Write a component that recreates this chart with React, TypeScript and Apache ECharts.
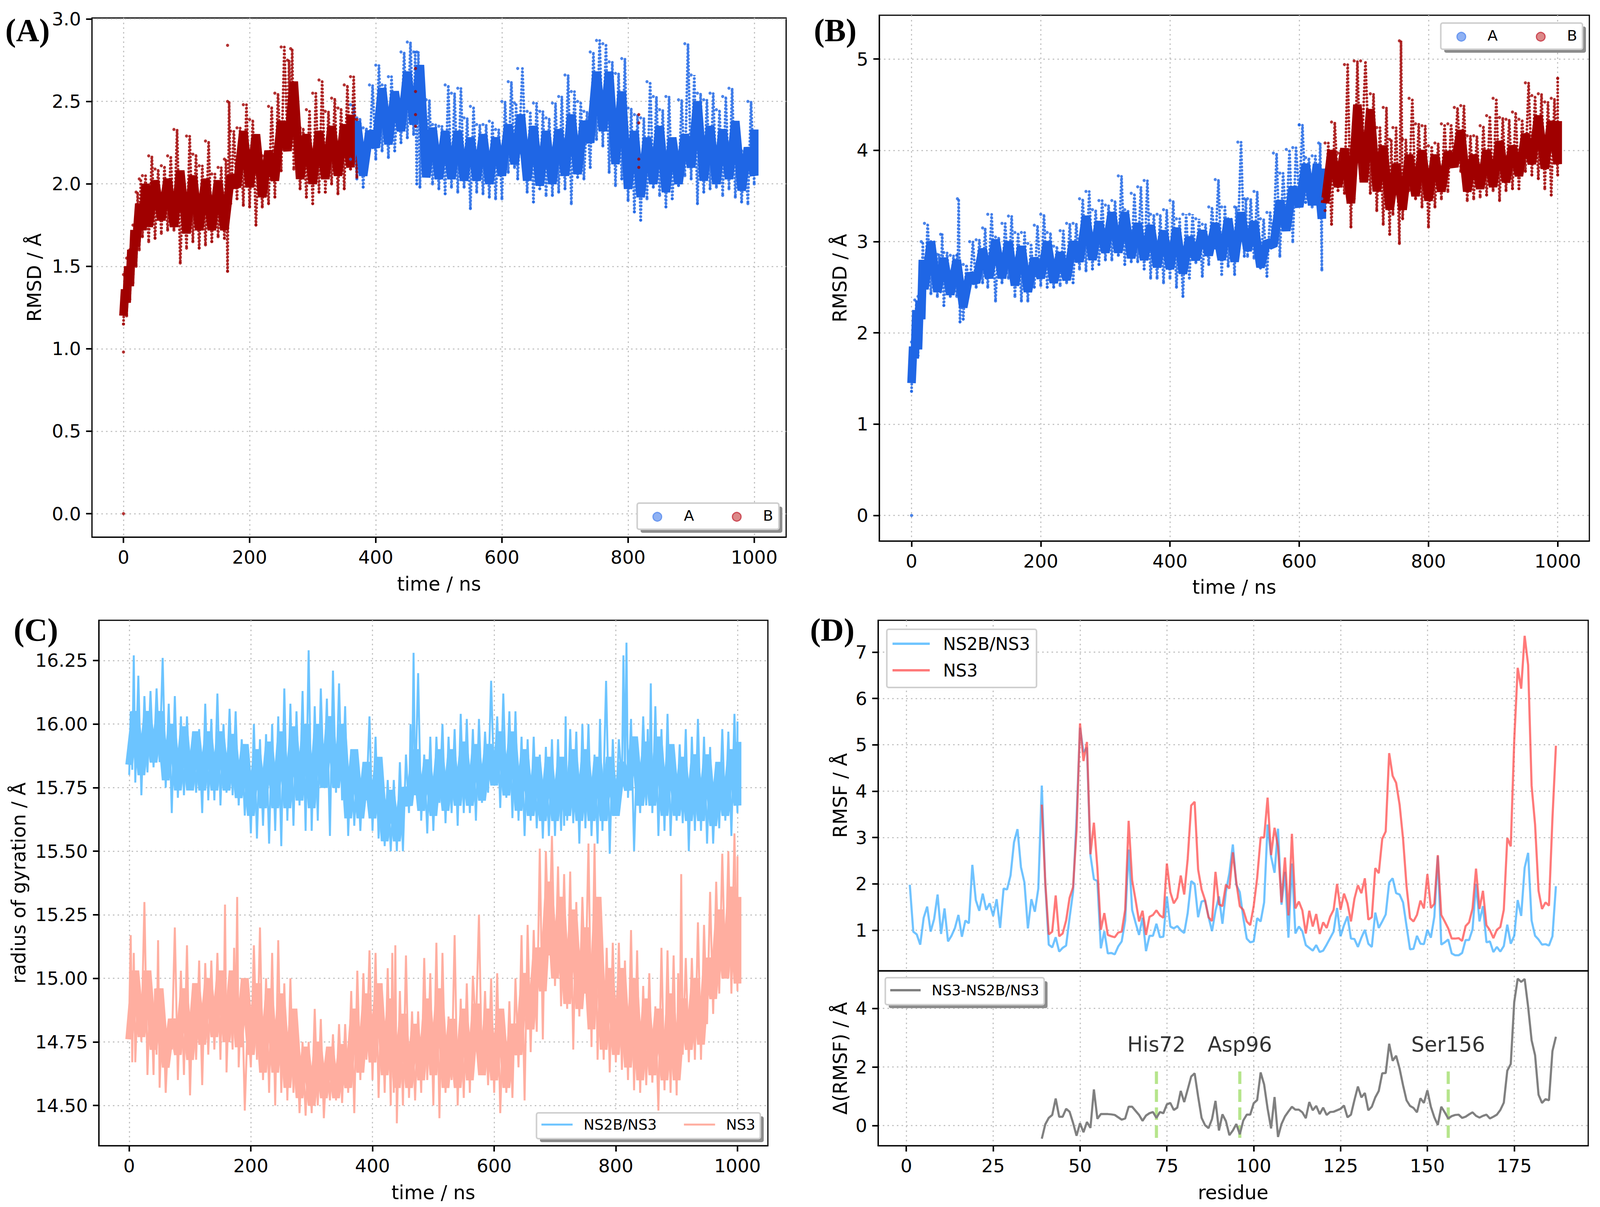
import React, { useEffect, useRef } from "react";
import * as echarts from "echarts";

const FONT = "DejaVu Sans";
const RED = "#a00000";
const BLUE = "#1f66e5";
const SKY = "#33a9ff";
const CORAL = "#ff4040";
const RG_SKY = "#6cc4ff";
const RG_SALMON = "#ffaea0";
const DESIGN_WIDTH = 4211;

const timeTicks = [0, 200, 400, 600, 800, 1000];
const ticksA = [0, 0.5, 1, 1.5, 2, 2.5, 3];
const ticksB = [0, 1, 2, 3, 4, 5];
const ticksC = [14.5, 14.75, 15, 15.25, 15.5, 15.75, 16, 16.25];
const ticksD = [1, 2, 3, 4, 5, 6, 7];
const ticksE = [0, 2, 4];
const residueTicks = [0, 25, 50, 75, 100, 125, 150, 175];

// Panel A, chain B part (red)
const aRedT = [0,5,10,15,20,25,30,40,50,60,70,80,90,100,110,120,130,140,150,160,165,170,180,190,200,210,220,230,240,250,260,265,270,280,290,300,310,320,330,340,350,360,370];
const aRedHi = [1.45,1.55,1.6,1.75,1.95,2.03,2.05,2.17,2.09,2.11,2.17,2.33,2.03,2.29,2.18,2.11,2.26,2.06,2.1,2.15,2.5,2.32,2.34,2.48,2.39,2.27,2.17,2.47,2.55,2.83,2.75,2.82,2.49,2.34,2.45,2.55,2.63,2.44,2.52,2.46,2.6,2.65,2.39];
const aRedLo = [1.15,1.2,1.3,1.4,1.5,1.6,1.68,1.65,1.67,1.7,1.72,1.72,1.52,1.61,1.65,1.61,1.63,1.65,1.68,1.67,1.47,1.88,1.91,1.87,1.86,1.75,1.86,1.88,1.92,2.08,2.27,2.35,2.09,1.97,1.92,1.88,1.95,1.95,2.0,1.94,1.97,2.09,2.04];
const aRedCoreT = [0,5,10,15,20,30,40,60,80,100,120,140,160,180,200,220,240,260,280,300,320,340,360];
const aRedCoreHi = [1.36,1.5,1.6,1.72,1.88,2.0,2.02,2.03,2.08,2.05,2.03,2.02,2.05,2.32,2.3,2.2,2.38,2.62,2.3,2.32,2.35,2.36,2.42];
const aRedCoreLo = [1.2,1.28,1.38,1.5,1.62,1.72,1.74,1.78,1.74,1.7,1.72,1.72,1.72,1.98,1.98,1.92,2.02,2.2,2.03,2.0,2.03,2.05,2.1];
const aRedExtra = [[0,0],[0,0.98],[165,2.84],[463,2.7],[463,2.56],[463,2.42],[463,2.35],[817,2.42],[817,2.37],[817,2.15],[817,2.1]];

// Panel A, chain A part (blue)
const aBlueT = [360,370,380,390,400,410,420,430,440,450,460,465,470,480,490,500,510,520,530,540,550,560,570,580,590,600,610,620,625,640,650,660,670,680,690,700,710,720,730,740,750,760,770,780,790,800,810,820,830,840,850,860,870,880,890,900,910,920,930,940,950,960,970,980,990,1000];
const aBlueHi = [2.48,2.4,2.34,2.6,2.72,2.6,2.65,2.55,2.8,2.86,2.8,2.8,2.62,2.51,2.36,2.35,2.6,2.55,2.58,2.4,2.47,2.36,2.36,2.38,2.33,2.5,2.62,2.49,2.7,2.44,2.49,2.44,2.4,2.49,2.53,2.66,2.56,2.5,2.44,2.8,2.87,2.85,2.74,2.67,2.76,2.46,2.42,2.4,2.62,2.53,2.45,2.53,2.22,2.51,2.85,2.66,2.55,2.51,2.55,2.45,2.53,2.58,2.28,2.2,2.5,2.15];
const aBlueLo = [2.15,2.03,1.98,2.2,2.15,2.2,2.16,2.2,2.25,2.28,2.3,2.0,1.98,2.05,2.0,1.97,1.94,1.98,1.95,1.98,1.85,1.95,1.94,1.92,1.91,1.91,2.07,2.1,2.03,1.95,1.89,1.97,1.93,1.93,1.95,1.97,1.88,2.04,2.03,2.1,2.27,2.23,2.07,1.99,2.03,1.9,1.83,1.78,1.91,1.98,1.93,1.86,1.91,1.99,2.05,2.03,1.88,1.95,1.97,1.98,1.93,1.97,1.92,1.89,1.88,2.0];
const aBlueCoreT = [360,380,400,420,440,460,480,500,520,540,560,580,600,620,640,660,680,700,720,740,760,780,800,820,840,860,880,900,920,940,960,980,1000];
const aBlueCoreHi = [2.38,2.32,2.58,2.56,2.68,2.72,2.34,2.32,2.32,2.28,2.3,2.28,2.36,2.42,2.35,2.32,2.33,2.42,2.38,2.68,2.68,2.56,2.32,2.28,2.35,2.28,2.3,2.5,2.35,2.33,2.38,2.22,2.33];
const aBlueCoreLo = [2.12,2.05,2.22,2.24,2.32,2.36,2.04,2.03,2.03,2.02,2.02,2.0,2.05,2.12,2.02,1.99,2.0,2.05,2.06,2.25,2.32,2.12,1.97,1.92,2.0,1.95,2.0,2.1,2.02,2.0,2.03,1.96,2.05];

// Panel B, chain A part (blue)
const bBlueT = [0,5,10,15,20,30,40,45,50,60,70,71,75,80,90,100,110,118,130,140,150,160,170,180,190,200,210,220,230,240,250,260,270,280,290,300,310,320,330,340,350,360,370,380,390,400,410,420,430,440,450,460,470,480,490,500,505,515,520,530,540,550,560,570,580,590,600,610,620,630,635];
const bBlueHi = [1.9,2.36,2.4,3.0,3.2,3.0,2.86,3.08,2.88,2.85,2.85,3.47,2.66,2.75,3.0,3.02,3.15,3.3,3.05,3.2,3.28,3.1,3.1,2.98,3.18,3.3,3.1,2.95,3.12,3.2,3.2,3.47,3.55,3.35,3.45,3.4,3.45,3.72,3.35,3.53,3.6,3.67,3.3,3.3,3.35,3.45,3.25,3.3,3.3,3.25,3.19,3.38,3.68,3.38,3.25,3.38,4.09,3.47,3.47,3.55,3.25,3.32,3.97,3.75,4.01,4.03,4.28,3.92,3.94,4.08,3.47];
const bBlueLo = [1.36,1.75,1.75,2.2,2.4,2.43,2.4,2.45,2.3,2.4,2.4,2.45,2.12,2.15,2.5,2.5,2.55,2.5,2.35,2.55,2.6,2.4,2.35,2.35,2.5,2.52,2.5,2.5,2.52,2.55,2.55,2.7,2.68,2.7,2.75,2.8,2.8,2.85,2.75,2.78,2.78,2.7,2.6,2.6,2.55,2.6,2.5,2.4,2.6,2.77,2.62,2.75,2.93,2.64,2.73,2.64,3.03,2.84,2.84,2.82,2.71,2.62,2.97,2.84,3.21,3.0,3.47,3.43,3.38,3.47,2.69];
const bBlueCoreT = [0,5,10,15,20,40,60,80,100,120,140,160,180,200,220,240,260,280,300,320,340,360,380,400,420,440,460,480,500,520,540,560,580,600,620,635];
const bBlueCoreHi = [1.85,2.25,2.35,2.8,3.0,2.82,2.8,2.65,2.92,3.02,3.0,2.95,2.82,3.0,2.88,3.0,3.28,3.22,3.32,3.32,3.2,3.18,3.12,3.15,3.05,3.12,3.2,3.25,3.32,3.22,3.0,3.45,3.6,3.85,3.85,3.8];
const bBlueCoreLo = [1.45,1.72,1.82,2.15,2.48,2.45,2.42,2.28,2.55,2.6,2.6,2.52,2.45,2.6,2.55,2.58,2.78,2.8,2.88,2.88,2.82,2.8,2.72,2.7,2.65,2.8,2.85,2.8,2.78,2.9,2.72,2.95,3.12,3.38,3.4,3.25];
const bBlueExtra = [[0,0],[600,4.28]];

// Panel B, chain B part (red)
const bRedT = [640,650,660,670,680,685,695,710,720,730,740,745,755,760,770,780,790,800,810,820,830,840,850,860,870,880,890,900,910,920,930,940,950,960,970,980,990,1000];
const bRedHi = [4.08,4.31,3.97,4.94,3.99,4.98,4.98,4.62,4.25,4.47,4.12,4.25,5.2,4.12,4.57,4.29,4.27,4.05,4.08,4.29,4.29,4.47,4.49,4.16,4.16,4.27,4.38,4.57,4.36,4.34,4.42,4.34,4.74,4.6,4.62,4.53,4.57,4.79];
const bRedLo = [3.34,3.19,3.56,3.53,3.16,3.47,3.69,3.53,3.34,3.19,3.08,3.3,2.98,3.25,3.56,3.47,3.38,3.16,3.38,3.47,3.55,3.84,3.77,3.45,3.47,3.49,3.51,3.56,3.45,3.56,3.58,3.58,3.77,3.73,3.69,3.58,3.51,3.73];
const bRedCoreT = [640,660,680,700,720,740,760,780,800,820,840,860,880,900,920,940,960,980,1000];
const bRedCoreHi = [4.0,4.02,4.5,4.45,4.05,3.85,3.95,4.0,3.95,3.98,4.22,3.95,4.0,4.1,4.05,4.18,4.38,4.32,4.32];
const bRedCoreLo = [3.42,3.6,3.42,3.65,3.55,3.35,3.35,3.5,3.45,3.55,3.82,3.55,3.58,3.6,3.65,3.72,3.85,3.8,3.85];

// Panel C, radius of gyration
const rgComplexT = [0,5,10,20,30,40,50,60,70,80,90,100,110,120,130,140,150,160,170,180,190,200,210,220,230,240,250,260,270,280,290,300,310,320,330,340,350,360,370,380,390,400,410,420,430,440,450,460,465,470,480,490,500,510,520,530,540,550,560,570,580,590,600,610,620,630,640,650,660,670,680,690,700,710,715,720,730,740,750,760,770,778,790,800,810,815,820,830,840,850,855,860,870,880,890,900,910,920,930,940,950,960,970,980,990,1000];
const rgComplexHi = [16.05,16.27,16.19,16.11,16.13,16.14,16.26,16.08,16.11,16.03,16.03,15.97,15.98,16.08,16.02,16.12,16.00,16.06,16.05,15.94,15.90,16.00,15.94,15.96,16.00,16.03,16.14,16.08,16.05,16.13,16.29,16.07,16.14,16.10,16.21,16.16,16.07,15.90,15.87,15.85,16.03,15.95,15.82,15.78,15.78,15.85,15.88,16.00,16.28,16.20,15.88,15.95,15.95,16.00,15.95,15.98,16.04,16.02,15.98,16.02,15.97,16.17,16.03,16.12,16.05,16.05,15.95,15.94,15.95,15.88,15.91,15.94,15.94,15.83,16.03,15.98,15.97,16.00,16.00,15.88,16.02,16.17,15.94,15.94,16.27,16.32,16.02,15.91,16.03,15.98,16.16,16.07,15.98,16.04,15.88,15.92,15.98,15.95,16.02,15.95,15.91,15.85,15.98,15.97,16.04,16.01];
const rgComplexLo = [15.80,15.82,15.77,15.72,15.81,15.83,15.85,15.75,15.65,15.71,15.72,15.74,15.73,15.65,15.70,15.70,15.68,15.73,15.72,15.68,15.64,15.57,15.55,15.60,15.53,15.58,15.52,15.62,15.60,15.68,15.58,15.58,15.62,15.75,15.56,15.73,15.70,15.56,15.60,15.58,15.70,15.58,15.55,15.52,15.50,15.50,15.50,15.65,15.75,15.72,15.62,15.57,15.58,15.69,15.61,15.65,15.60,15.65,15.65,15.62,15.69,15.73,15.76,15.67,15.71,15.63,15.62,15.56,15.62,15.59,15.55,15.56,15.56,15.58,15.60,15.62,15.61,15.53,15.59,15.56,15.53,15.58,15.49,15.64,15.76,15.80,15.71,15.50,15.65,15.68,15.70,15.65,15.56,15.58,15.56,15.62,15.61,15.50,15.58,15.58,15.53,15.53,15.59,15.62,15.56,15.65];
const coreT = [0,20,40,60,80,100,120,140,160,180,200,220,240,260,280,300,320,340,360,380,400,420,440,460,480,500,520,540,560,580,600,620,640,660,680,700,720,740,760,780,800,820,840,860,880,900,920,940,960,980,1000];
const rgComplexCoreHi = [16.05,16.05,16.05,16.0,15.99,15.97,15.97,15.97,15.96,15.92,15.9,15.93,15.97,15.99,16.0,16.0,16.03,16.0,15.9,15.85,15.87,15.74,15.75,15.9,15.86,15.9,15.9,15.93,15.92,15.92,15.97,15.97,15.9,15.87,15.87,15.87,15.9,15.9,15.87,15.87,15.85,15.95,15.93,15.95,15.92,15.87,15.88,15.88,15.85,15.9,15.93];
const rgComplexCoreLo = [15.84,15.8,15.85,15.78,15.74,15.74,15.74,15.74,15.74,15.71,15.64,15.67,15.67,15.67,15.7,15.67,15.75,15.75,15.63,15.63,15.63,15.54,15.54,15.68,15.66,15.64,15.66,15.68,15.68,15.7,15.76,15.72,15.66,15.64,15.62,15.62,15.64,15.62,15.62,15.62,15.64,15.74,15.68,15.68,15.64,15.64,15.62,15.62,15.6,15.64,15.68];
const rgApoT = [0,5,10,20,30,40,45,50,60,70,80,90,100,110,120,130,140,150,155,160,170,175,180,190,200,210,220,230,240,250,260,270,280,290,300,310,320,330,340,350,360,370,380,390,400,410,420,430,435,440,450,460,470,480,490,500,510,520,530,540,550,560,570,580,590,600,610,620,630,640,650,660,670,680,690,700,710,720,730,740,750,760,770,780,790,800,810,820,830,840,850,860,870,880,890,900,905,910,920,930,940,950,960,970,980,990,1000];
const rgApoHi = [15.17,15.10,15.00,15.30,15.02,14.96,15.15,14.95,14.83,15.20,15.03,15.13,14.98,15.07,15.06,15.07,15.10,15.00,15.29,15.00,15.12,15.32,15.00,14.85,15.13,15.20,15.00,15.10,15.15,14.98,15.00,14.82,14.75,14.75,14.88,14.84,14.70,14.78,14.82,14.82,14.95,15.03,15.02,15.11,15.10,14.98,15.04,15.10,15.13,14.95,15.09,14.87,14.87,15.08,15.02,15.14,15.10,14.85,15.17,14.92,14.98,15.01,15.25,14.95,15.00,15.02,14.86,14.91,15.00,15.17,15.21,15.19,15.51,15.50,15.56,15.44,15.41,15.42,15.30,15.32,15.53,15.53,15.12,15.12,15.14,15.14,15.07,15.19,15.11,14.97,15.02,14.89,15.12,15.11,15.09,15.02,15.41,15.08,15.08,15.22,15.21,15.34,15.38,15.49,15.50,15.57,15.48];
const rgApoLo = [14.85,14.67,14.67,14.75,14.62,14.62,14.70,14.57,14.55,14.72,14.60,14.62,14.54,14.68,14.58,14.70,14.72,14.68,14.75,14.63,14.72,14.78,14.65,14.48,14.65,14.68,14.60,14.55,14.50,14.55,14.52,14.55,14.47,14.46,14.47,14.50,14.45,14.52,14.52,14.51,14.55,14.47,14.60,14.68,14.60,14.53,14.55,14.50,14.55,14.43,14.50,14.53,14.52,14.55,14.60,14.50,14.45,14.55,14.60,14.50,14.53,14.55,14.80,14.62,14.58,14.55,14.47,14.55,14.53,14.65,14.52,14.71,14.79,14.76,15.09,14.97,14.89,14.88,14.72,14.85,14.94,14.73,14.68,14.68,14.63,14.67,14.64,14.60,14.56,14.55,14.58,14.59,14.48,14.56,14.55,14.54,14.70,14.70,14.67,14.68,14.68,14.82,14.86,14.94,15.00,14.94,14.95];
const rgApoCoreHi = [15.03,15.03,14.96,14.84,14.96,14.98,15.0,15.03,15.03,15.0,14.98,14.96,14.94,14.88,14.73,14.75,14.73,14.74,14.88,14.94,14.98,14.92,14.86,14.82,14.92,14.96,14.84,14.88,14.9,14.88,14.88,14.82,15.02,15.12,15.38,15.32,15.27,15.2,15.32,15.04,15.04,15.0,14.92,14.88,14.94,14.92,15.0,15.08,15.27,15.36,15.32];
const rgApoCoreLo = [14.76,14.77,14.72,14.65,14.7,14.68,14.74,14.77,14.75,14.73,14.7,14.63,14.63,14.57,14.53,14.5,14.53,14.53,14.57,14.63,14.67,14.62,14.57,14.57,14.6,14.62,14.57,14.57,14.6,14.62,14.6,14.57,14.7,14.8,14.95,15.0,14.9,14.88,14.8,14.72,14.7,14.65,14.6,14.62,14.6,14.6,14.72,14.74,14.92,15.0,14.98];

// Panel D, RMSF per residue
const rmsfComplex = [1.98,0.97,0.91,0.69,1.27,1.51,0.97,1.24,1.77,0.92,1.47,0.76,0.88,1.05,1.33,0.86,1.21,1.15,2.41,1.65,1.42,1.79,1.44,1.58,1.31,1.67,1.05,1.90,1.88,2.18,2.90,3.18,2.36,2.03,1.04,1.67,1.40,1.90,4.12,2.0,0.69,0.63,0.85,0.54,0.62,0.67,1.27,1.83,3.41,5.37,4.84,4.94,2.62,2.10,2.06,0.61,0.98,0.50,0.51,0.48,0.65,0.76,1.21,2.74,1.44,1.16,0.90,1.27,0.55,0.88,0.88,1.14,0.85,0.86,1.73,1.08,1.04,1.09,1.0,0.94,1.37,2.06,2.0,1.28,1.62,1.64,1.29,0.98,1.42,1.73,1.14,1.83,2.23,2.85,1.98,1.82,1.27,0.82,0.74,0.76,1.26,1.19,1.60,3.28,2.59,2.24,3.19,1.55,2.26,0.84,2.44,0.93,1.08,0.98,0.68,0.62,0.56,0.68,0.53,0.56,0.69,0.83,0.97,1.48,0.87,1.11,1.30,0.82,0.81,0.64,0.84,1.01,0.71,0.64,1.38,1.05,1.19,1.34,2.03,2.12,1.80,1.77,1.60,1.09,0.59,0.60,0.88,0.71,0.70,1.01,0.84,1.29,2.60,0.69,0.74,0.80,0.50,0.46,0.46,0.51,0.79,0.79,1.02,2.0,1.19,1.52,0.74,0.76,0.53,0.64,0.54,0.66,1.12,0.71,0.88,1.65,1.31,2.35,2.67,1.21,0.88,0.80,0.69,0.70,0.67,0.87,1.95];
const rmsfApoStart = 39;
const rmsfApo = [3.71,2.03,0.91,0.97,1.75,0.87,0.93,1.21,1.70,1.93,3.15,5.46,4.65,5.06,2.64,3.32,2.34,1.01,1.37,0.90,0.87,0.85,0.95,0.97,1.44,3.36,2.08,1.65,1.19,1.42,0.90,1.29,1.33,1.43,1.32,1.27,2.44,1.82,1.58,1.70,2.18,1.77,2.54,3.69,3.77,2.31,1.88,1.65,1.28,1.20,2.26,1.56,1.52,1.98,1.90,2.68,2.03,1.52,1.44,1.19,1.11,1.52,2.13,3.0,3.0,3.86,2.62,3.21,2.80,1.60,2.57,1.32,3.08,1.47,1.62,1.43,0.93,1.42,1.08,1.35,0.92,1.17,1.05,1.29,1.44,2.0,1.44,1.79,1.58,1.19,1.68,1.97,1.80,2.12,1.23,1.28,2.34,2.23,2.97,3.13,4.82,4.33,4.18,3.71,2.97,1.95,1.26,1.19,1.33,1.64,1.47,2.21,1.48,1.57,2.62,1.33,1.19,1.04,0.82,0.82,0.83,0.77,1.09,1.17,1.47,2.33,1.46,1.85,1.11,1.0,0.83,1.01,1.07,1.44,2.99,2.81,5.09,6.66,6.21,7.35,6.72,4.12,3.28,1.85,1.46,1.60,1.53,3.41,4.98];
const rmsfDelta = [-0.45,0.04,0.26,0.36,0.92,0.30,0.30,0.57,0.47,0.09,-0.35,0.08,-0.23,0.12,-0.08,1.23,0.23,0.39,0.39,0.39,0.38,0.36,0.28,0.20,0.24,0.64,0.64,0.50,0.36,0.16,0.34,0.42,0.46,0.26,0.46,0.42,0.72,0.77,0.53,0.61,1.18,0.80,1.23,1.67,1.78,0.99,0.26,0.01,-0.09,0.22,0.84,-0.17,0.38,0.15,-0.33,-0.17,0.05,-0.30,0.17,0.37,0.37,0.76,0.87,1.81,1.40,0.58,-0.10,0.97,-0.39,0.05,0.31,0.48,0.64,0.54,0.54,0.45,0.25,0.80,0.52,0.67,0.39,0.61,0.36,0.46,0.47,0.52,0.57,0.68,0.28,0.37,0.87,1.33,0.96,1.11,0.52,0.64,0.96,1.18,1.78,1.79,2.79,2.21,2.38,1.94,1.37,0.86,0.67,0.60,0.45,0.93,0.77,1.20,0.64,0.28,0.02,0.64,0.45,0.24,0.32,0.36,0.37,0.26,0.30,0.38,0.45,0.33,0.27,0.33,0.37,0.24,0.30,0.37,0.53,0.78,1.87,2.10,4.21,5.01,4.90,5.0,4.05,2.91,2.40,1.05,0.77,0.90,0.86,2.54,3.03];
const siteNames = ["His72", "Asp96", "Ser156"];
const siteResidues = [72, 96, 156];

const zig = (ts: number[], a: number[], b: number[]) =>
  ts.flatMap((t, i) => {
    const next = ts[i + 1] ?? t;
    return [[t, a[i]], [(t + next) / 2, b[i]]];
  });

const gridLine = { show: true, lineStyle: { color: "#c4c4c4", width: 3, type: [4, 8] } };

function axis(gridIndex: number, min: number, max: number, ticks: number[], extra: any = {}) {
  const { labelFormatter, noLabels, noTicks, ...rest } = extra;
  return {
    type: "value",
    gridIndex,
    min,
    max,
    axisLine: { show: true, onZero: false, lineStyle: { color: "#000", width: 3 } },
    axisTick: { show: !noTicks, inside: false, length: 15, lineStyle: { color: "#000", width: 4 }, customValues: ticks },
    axisLabel: {
      show: !noLabels,
      customValues: ticks,
      fontSize: 47,
      fontFamily: FONT,
      color: "#000",
      margin: 28,
      formatter: labelFormatter ?? ((v: number) => String(v)),
    },
    splitLine: gridLine,
    nameLocation: "middle",
    nameTextStyle: { fontSize: 49, fontFamily: FONT, color: "#000" },
    ...rest,
  };
}

function scatterPanel(i: number, color: string, t: number[], hi: number[], lo: number[], ct: number[], ch: number[], cl: number[], extra: number[][] = []) {
  const axes = { xAxisIndex: i, yAxisIndex: i };
  return [
    {
      type: "line", ...axes, symbol: "none", silent: true, data: zig(t, lo, hi), z: 2,
      lineStyle: { color, width: 7, type: [0.1, 9], cap: "round", opacity: 0.85 },
    },
    {
      type: "line", ...axes, symbol: "none", silent: true, data: zig(ct, cl, ch), z: 3,
      lineStyle: { color, width: 22, join: "bevel", opacity: 1 },
    },
    {
      type: "scatter", ...axes, symbolSize: 8, silent: true, z: 4,
      itemStyle: { color, opacity: 0.8 },
      data: [...t.map((v, k) => [v, hi[k]]), ...t.map((v, k) => [v, lo[k]]), ...extra],
    },
  ];
}

function rgPanel(color: string, t: number[], hi: number[], lo: number[], cH: number[], cL: number[]) {
  const axes = { xAxisIndex: 2, yAxisIndex: 2 };
  return [
    { type: "line", ...axes, symbol: "none", silent: true, z: 2, data: zig(t, lo, hi), lineStyle: { color, width: 5, join: "bevel" } },
    { type: "line", ...axes, symbol: "none", silent: true, z: 2, data: zig(coreT, cL, cH), lineStyle: { color, width: 20, join: "bevel" } },
  ];
}

export default function App() {
  const ref = useRef<HTMLDivElement>(null);
  useEffect(() => {
    document.body.style.margin = "0";
    const chart = echarts.init(ref.current!, undefined, { renderer: "svg" });
    // The page may be narrower than the 4211 px design, so the layout fits whatever width it gets.
    const kx = Math.min(1, chart.getWidth() / DESIGN_WIDTH);
    const X = (v: number) => v * kx;

    const legendBox = (x: number, y: number, w: number, h: number, shadow: boolean) => {
      const els: any[] = [];
      if (shadow) els.push({ type: "rect", z: 50, shape: { x: X(x + 9), y: y + 9, width: X(w), height: h, r: 5 }, style: { fill: "#8c8c8c", stroke: null } });
      els.push({ type: "rect", z: 51, shape: { x: X(x), y, width: X(w), height: h, r: 5 }, style: { fill: "#fff", stroke: "#cfcfcf", lineWidth: 4 } });
      return els;
    };
    const legendLabel = (text: string, x: number, y: number, fontSize: number) => ({
      type: "text", z: 52,
      style: { text, x: X(x), y, fontSize, fontFamily: FONT, fill: "#000", align: "left", verticalAlign: "middle", textAlign: "left", textVerticalAlign: "middle" },
    });
    const legendDot = (cx: number, cy: number, fill: string, stroke: string) => ({
      type: "circle", z: 52, shape: { cx: X(cx), cy, r: 11 }, style: { fill, stroke, lineWidth: 3 },
    });
    const legendLine = (x1: number, x2: number, y: number, stroke: string, lineWidth = 5) => ({
      type: "line", z: 52, shape: { x1: X(x1), y1: y, x2: X(x2), y2: y }, style: { stroke, lineWidth },
    });
    const panelLabel = (text: string, x: number, y: number) => ({
      type: "text", z: 60,
      style: { text, x: X(x), y, fontSize: 82, fontWeight: "bold", fontFamily: "Liberation Serif", fill: "#000", align: "left", verticalAlign: "middle", textAlign: "left", textVerticalAlign: "middle" },
    });
    const frame = (left: number, right: number, top: number, bottom: number) => ({
      show: true, borderColor: "#000", borderWidth: 3, backgroundColor: "transparent",
      left: X(left), top, width: X(right - left), height: bottom - top,
    });

    const residues = rmsfComplex.map((_, i) => i + 1);
    chart.setOption({
      animation: false,
      backgroundColor: "#fff",
      grid: [
        frame(242, 2069, 46, 1375),
        frame(2314, 4183, 39, 1385),
        frame(260, 2021, 1588, 2933),
        frame(2311, 4180, 1588, 2485),
        frame(2311, 4180, 2486, 2933),
      ],
      xAxis: [
        axis(0, -50, 1050.6, timeTicks, { name: "time / ns", nameGap: 96 }),
        axis(1, -50, 1049, timeTicks, { name: "time / ns", nameGap: 94 }),
        axis(2, -50, 1050, timeTicks, { name: "time / ns", nameGap: 96 }),
        axis(3, -8.13, 196.3, residueTicks, { noLabels: true, noTicks: true }),
        axis(4, -8.13, 196.3, residueTicks, { name: "residue", nameGap: 96 }),
      ],
      yAxis: [
        axis(0, -0.142, 3.006, ticksA, { name: "RMSD / Å", nameGap: 122, labelFormatter: (v: number) => v.toFixed(1) }),
        axis(1, -0.28, 5.48, ticksB, { name: "RMSD / Å", nameGap: 76 }),
        axis(2, 14.342, 16.408, ticksC, { name: "radius of gyration / Å", nameGap: 180, labelFormatter: (v: number) => v.toFixed(2) }),
        axis(3, 0.128, 7.685, ticksD, { name: "RMSF / Å", nameGap: 72 }),
        axis(4, -0.688, 5.27, ticksE, { name: "Δ(RMSF) / Å", nameGap: 72 }),
      ],
      series: [
        ...scatterPanel(0, BLUE, aBlueT, aBlueHi, aBlueLo, aBlueCoreT, aBlueCoreHi, aBlueCoreLo),
        ...scatterPanel(0, RED, aRedT, aRedHi, aRedLo, aRedCoreT, aRedCoreHi, aRedCoreLo, aRedExtra),
        ...scatterPanel(1, BLUE, bBlueT, bBlueHi, bBlueLo, bBlueCoreT, bBlueCoreHi, bBlueCoreLo, bBlueExtra),
        ...scatterPanel(1, RED, bRedT, bRedHi, bRedLo, bRedCoreT, bRedCoreHi, bRedCoreLo),
        ...rgPanel(RG_SKY, rgComplexT, rgComplexHi, rgComplexLo, rgComplexCoreHi, rgComplexCoreLo),
        ...rgPanel(RG_SALMON, rgApoT, rgApoHi, rgApoLo, rgApoCoreHi, rgApoCoreLo),
        {
          type: "line", name: "NS2B/NS3", xAxisIndex: 3, yAxisIndex: 3, symbol: "none", silent: true,
          data: residues.map((r, i) => [r, rmsfComplex[i]]),
          lineStyle: { color: SKY, width: 5.5, opacity: 0.7 },
        },
        {
          type: "line", name: "NS3", xAxisIndex: 3, yAxisIndex: 3, symbol: "none", silent: true,
          data: rmsfApo.map((v, i) => [rmsfApoStart + i, v]),
          lineStyle: { color: CORAL, width: 5.5, opacity: 0.7 },
        },
        ...siteResidues.map((r) => ({
          type: "line", xAxisIndex: 4, yAxisIndex: 4, symbol: "none", silent: true,
          data: [[r, -0.42], [r, 2.0]],
          lineStyle: { color: "#b6e58c", width: 8, type: [32, 14] },
        })),
        {
          type: "line", name: "NS3-NS2B/NS3", xAxisIndex: 4, yAxisIndex: 4, symbol: "none", silent: true,
          data: rmsfDelta.map((v, i) => [rmsfApoStart + i, v]),
          lineStyle: { color: "#808080", width: 5.5 },
        },
        {
          type: "scatter", xAxisIndex: 4, yAxisIndex: 4, symbolSize: 1, silent: true,
          itemStyle: { color: "transparent" },
          data: siteResidues.map((r, i) => ({ name: siteNames[i], value: [r, 2.77] })),
          label: { show: true, position: "inside", formatter: "{b}", fontSize: 53, fontFamily: FONT, color: "#000" },
        },
      ],
      graphic: {
        elements: [
          panelLabel("(A)", 14, 77),
          panelLabel("(B)", 2142, 77),
          panelLabel("(C)", 36, 1612),
          panelLabel("(D)", 2132, 1612),
          ...legendBox(1677, 1288, 373, 67, true),
          legendDot(1730, 1323, "#8fb1f3", "#6a98f0"),
          legendLabel("A", 1800, 1320, 38),
          legendDot(1939, 1323, "#dc8888", "#cc4a55"),
          legendLabel("B", 2008, 1320, 38),
          ...legendBox(3792, 59, 373, 67, true),
          legendDot(3846, 94, "#8fb1f3", "#6a98f0"),
          legendLabel("A", 3915, 91, 38),
          legendDot(4055, 94, "#dc8888", "#cc4a55"),
          legendLabel("B", 4124, 91, 38),
          ...legendBox(1412, 2849, 589, 66, true),
          legendLine(1425, 1507, 2879, RG_SKY),
          legendLabel("NS2B/NS3", 1536, 2879, 37),
          legendLine(1800, 1882, 2879, RG_SALMON),
          legendLabel("NS3", 1911, 2879, 37),
          ...legendBox(2334, 1611, 394, 149, false),
          legendLine(2349, 2447, 1648, "#70c5ff", 6),
          legendLabel("NS2B/NS3", 2482, 1648, 44),
          legendLine(2349, 2447, 1716, "#ff7a7a", 6),
          legendLabel("NS3", 2482, 1716, 44),
          ...legendBox(2330, 2503, 418, 69, true),
          legendLine(2343, 2423, 2535, "#808080", 6),
          legendLabel("NS3-NS2B/NS3", 2452, 2535, 37),
        ],
      },
    });
    return () => chart.dispose();
  }, []);
  return <div ref={ref} style={{ position: "absolute", left: 0, top: 0, width: "100vw", height: "100vh" }} />;
}
